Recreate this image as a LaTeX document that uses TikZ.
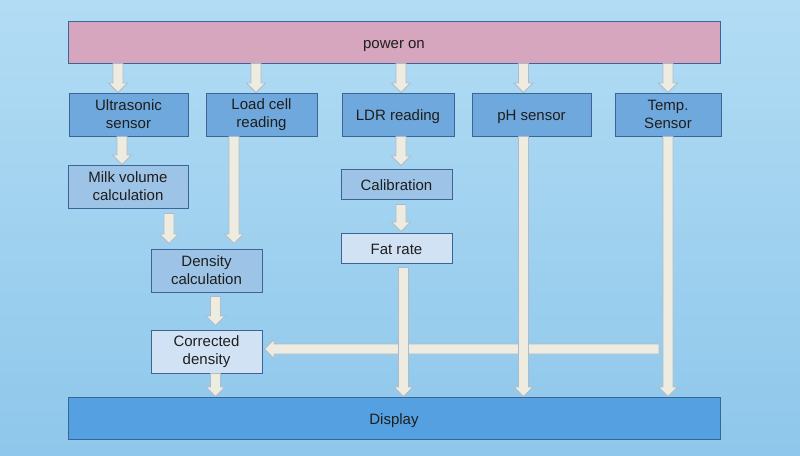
\documentclass[tikz,border=0pt]{standalone}
\usepackage{fontspec}
\setmainfont{Liberation Sans}
\usetikzlibrary{calc}
\definecolor{bgtop}{RGB}{178,220,244}
\definecolor{bgbot}{RGB}{142,199,235}
\definecolor{powerpink}{RGB}{214,165,190}
\definecolor{sensorblue}{RGB}{111,168,220}
\definecolor{stageblue}{RGB}{157,195,230}
\definecolor{resultblue}{RGB}{208,226,243}
\definecolor{displayblue}{RGB}{84,160,225}
\definecolor{boxline}{RGB}{60,100,150}
\definecolor{arrowfill}{RGB}{238,236,225}
\definecolor{arrowline}{RGB}{175,188,200}
\definecolor{textgray}{RGB}{30,30,30}
\tikzset{
  box/.style={draw=boxline, line width=1pt, align=center, inner sep=0pt, text=textgray, font=\fontsize{15}{18}\selectfont},
  oneline/.style={text height=15pt, text depth=3pt},
  sensor/.style={box, fill=sensorblue, minimum height=43pt},
  stage/.style={box, fill=stageblue},
  result/.style={box, fill=resultblue},
  barrow/.style={draw=arrowline, line width=0.8pt, fill=arrowfill, line join=miter,
    to path={($(\tikztostart)!5pt!90:(\tikztotarget)$)
      -- ($(\tikztotarget)!9.5pt!(\tikztostart)!5pt!90:(\tikztotarget)$)
      -- ($(\tikztotarget)!9.5pt!(\tikztostart)!9.5pt!90:(\tikztotarget)$)
      -- (\tikztotarget)
      -- ($(\tikztotarget)!9.5pt!(\tikztostart)!9.5pt!-90:(\tikztotarget)$)
      -- ($(\tikztotarget)!9.5pt!(\tikztostart)!5pt!-90:(\tikztotarget)$)
      -- ($(\tikztostart)!5pt!-90:(\tikztotarget)$) -- cycle}}
}
\begin{document}
\begin{tikzpicture}[x=1pt, y=-1pt]

	\shade [top color=bgtop, bottom color=bgbot] (0,0) rectangle (800,455);
	\useasboundingbox (0,0) rectangle (800,455);

	\node [box, oneline, fill=powerpink, minimum width=652pt, minimum height=42pt] (power) at (394,42) {power on};

	\node [sensor, minimum width=119pt] (ultra) at (128.5,114.5) {Ultrasonic\\sensor};
	\node [sensor, minimum width=111pt] (load) at (261.5,114.5) {Load cell\\reading};
	\node [sensor, oneline, minimum width=112pt] (ldr) at (398,114.5) {LDR reading};
	\node [sensor, oneline, minimum width=119pt] (ph) at (531.5,114.5) {pH sensor};
	\node [sensor, minimum width=106pt] (temp) at (668,114.5) {Temp.\\Sensor};

	\node [stage, minimum width=120pt, minimum height=43pt] (milk) at (128,186.5) {Milk volume\\calculation};
	\node [stage, oneline, minimum width=111pt, minimum height=30pt] (calib) at (396.5,184) {Calibration};
	\node [result, oneline, minimum width=111pt, minimum height=30pt] (fat) at (396.5,248) {Fat rate};
	\node [stage, minimum width=111pt, minimum height=43pt] (dens) at (206.5,270.5) {Density\\calculation};
	\node [result, minimum width=111pt, minimum height=43pt] (corr) at (206.5,351.5) {Corrected\\density};

	\node [box, oneline, fill=displayblue, minimum width=652pt, minimum height=42pt] (disp) at (394,418) {Display};

	% power on to the sensors
	\draw [barrow] ([xshift=-10.5pt]ultra.north |- power.south) to ([xshift=-10.5pt]ultra.north);
	\draw [barrow] ([xshift=-5.5pt]load.north |- power.south) to ([xshift=-5.5pt]load.north);
	\draw [barrow] ([xshift=3pt]ldr.north |- power.south) to ([xshift=3pt]ldr.north);
	\draw [barrow] ([xshift=-8pt]ph.north |- power.south) to ([xshift=-8pt]ph.north);
	\draw [barrow] (temp.north |- power.south) to (temp.north);

	\draw [barrow] ([xshift=-6.5pt]ultra.south) to ([xshift=-6pt]milk.north);
	\draw [barrow] ([xshift=-37.5pt,yshift=-5pt]dens.north |- milk.south) to ([xshift=-37.5pt,yshift=5pt]dens.north);
	\draw [barrow] ([xshift=-27.5pt]load.south) to ([xshift=27.5pt,yshift=5pt]dens.north);
	\draw [barrow] ([xshift=3pt]ldr.south) to ([xshift=4.5pt,yshift=3pt]calib.north);
	\draw [barrow] ([xshift=4.5pt,yshift=-5pt]calib.south) to ([xshift=4.5pt,yshift=1pt]fat.north);
	\draw [barrow] ([xshift=9pt,yshift=-4pt]dens.south) to ([xshift=9pt,yshift=4pt]corr.north);
	\draw [barrow] ([xshift=9pt]corr.south) to ([xshift=9pt]corr.south |- disp.north);

	% temperature correction
	\coordinate (tempjoin) at ([xshift=-9pt,yshift=2.5pt]temp.south |- corr.east);
	\draw [barrow] (tempjoin) to ([xshift=2pt,yshift=2.5pt]corr.east);

	% readings to the display
	\draw [barrow] ([xshift=7pt,yshift=-4pt]fat.south) to ([xshift=7pt]fat.south |- disp.north);
	\draw [barrow] ([xshift=-8pt]ph.south) to ([xshift=-8pt]ph.south |- disp.north);
	\draw [barrow] (temp.south) to (temp.south |- disp.north);

\end{tikzpicture}
\end{document}
